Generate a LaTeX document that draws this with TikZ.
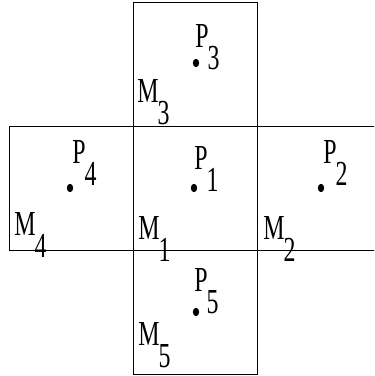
\documentclass[tikz,border=0pt]{standalone}
\usepackage{fontspec}
\setmainfont[FakeStretch=0.68]{Liberation Serif}
\newcommand{\sublbl}[2]{#1\kern-0.03em\raisebox{-0.6em}{#2}}
\begin{document}
\begin{tikzpicture}[x=0.03cm,y=0.03cm,line width=0.8pt,
  lbl/.style={inner sep=0pt,anchor=base west,font=\fontsize{30}{32}\selectfont}]
  \useasboundingbox (0,0) rectangle (374,376);
  \clip (0,0) rectangle (374,376);
  % the five cells
  \draw (133,126) rectangle (257,250);
  \draw (257,126) rectangle (381,250);
  \draw (133,250) rectangle (257,374);
  \draw (9,126) rectangle (133,250);
  \draw (133,2) rectangle (257,126);
  % points
  \coordinate (p1) at (194,188);
  \coordinate (p2) at (321,188);
  \coordinate (p3) at (196,313);
  \coordinate (p4) at (70,188);
  \coordinate (p5) at (196,64);
  \foreach \p in {p1,p2,p3,p4,p5}
    \fill (\p) ellipse (3.2 and 4.2);
  \node[lbl] (l1) at ([shift={(0,18)}]p1) {\sublbl{P}{1}};
  \node[lbl] (l2) at ([shift={(2,24)}]p2) {\sublbl{P}{2}};
  \node[lbl] (l3) at ([shift={(-1,15)}]p3) {\sublbl{P}{3}};
  \node[lbl] (l4) at ([shift={(2,24)}]p4) {\sublbl{P}{4}};
  \node[lbl] (l5) at ([shift={(-2,20)}]p5) {\sublbl{P}{5}};
  % cell names
  \node[lbl] (m1) at (138,136) {\sublbl{M}{1}};
  \node[lbl] (m2) at (263,136) {\sublbl{M}{2}};
  \node[lbl] (m3) at (137,273) {\sublbl{M}{3}};
  \node[lbl] (m4) at (14,140) {\sublbl{M}{4}};
  \node[lbl] (m5) at (138,30) {\sublbl{M}{5}};
\end{tikzpicture}
\end{document}
